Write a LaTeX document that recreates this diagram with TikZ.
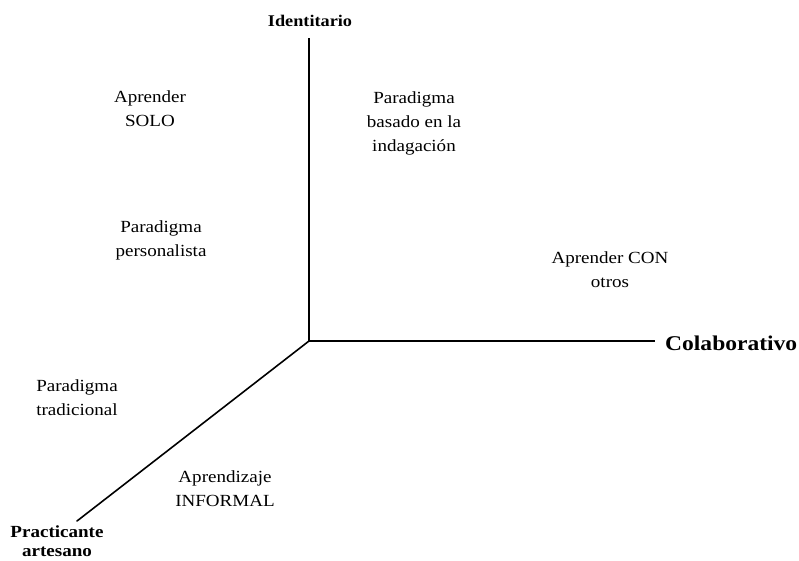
\documentclass[tikz,border=0pt]{standalone}
\usepackage{fontspec}
\setmainfont[FakeStretch=1.12]{Liberation Serif}
\begin{document}
\begin{tikzpicture}[x=1pt,y=-1pt,
  axis/.style={line width=1.6pt,black},
  lbl/.style={align=center,inner sep=0pt,font=\fontsize{17}{24}\selectfont},
  axlbl/.style={align=center,inner sep=0pt,font=\bfseries\fontsize{16.3}{19}\selectfont}]
\useasboundingbox (0,0) rectangle (799,560);
\coordinate (o) at (309,341);
\coordinate (top) at (309,38);
\coordinate (right) at (655,341);
\coordinate (bl) at (77,521);
\draw[axis] (top) -- (o) -- (right);
\draw[axis,line cap=round] (o) -- (bl);
\node[axlbl] (ident) at (310,21) {Identitario};
\node[axlbl,anchor=west,font=\bfseries\fontsize{21}{26}\selectfont] (colab) at (665,343) {Colaborativo};
\node[axlbl,font=\bfseries\fontsize{17}{19.5}\selectfont] (pract) at (57,541) {Practicante\\artesano};
\node[lbl] (solo) at (150,109) {Aprender\\SOLO};
\node[lbl] (indag) at (414,123) {Paradigma\\basado en la\\indagación};
\node[lbl] (perso) at (161,240) {Paradigma\\personalista};
\node[lbl] (con) at (610,270) {Aprender CON\\otros};
\node[lbl] (trad) at (77,398) {Paradigma\\tradicional};
\node[lbl] (inf) at (225,489) {Aprendizaje\\INFORMAL};
\end{tikzpicture}
\end{document}
